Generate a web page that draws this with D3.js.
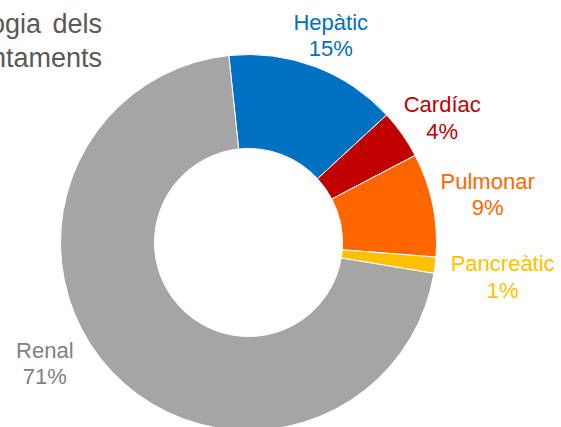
<!DOCTYPE html>
<html>
<head>
<meta charset="utf-8">
<script src="https://cdn.jsdelivr.net/npm/d3@7"></script>
<style>
  html, body { margin: 0; padding: 0; background: #fff; overflow: hidden; }
  text { font-family: "Liberation Sans", Arial, sans-serif; }
</style>
</head>
<body>
<svg id="donut" width="561" height="427"></svg>
<script>
// data (percent of transplants)
const categories = ["Hepàtic", "Cardíac", "Pulmonar", "Pancreàtic", "Renal"];
const values = [14.8, 4.2, 8.9, 1.4, 70.7];
const colors = ["#0070C0", "#C00000", "#FF6600", "#FFC000", "#A5A5A5"];
const textColors = ["#0070C0", "#C00000", "#FF6600", "#FFC000", "#808080"];
const titleLines = ["Tipologia dels", "trasplantaments"];

const data = categories.map((c, i) => ({ name: c, value: values[i], color: colors[i], text: textColors[i] }));

const svg = d3.select("#donut");

const cx = 248.5, cy = 242.5;
const outerR = 188, innerR = 94;
const fontSize = 22;
const lineGap = 26.5;

// title (cut off at the left edge like the original)
svg.append("g")
    .selectAll("text")
    .data(titleLines)
    .enter()
    .append("text")
    .attr("x", 102)
    .attr("y", (d, i) => 33 + i * 33.5)
    .attr("text-anchor", "end")
    .attr("font-size", 27)
    .attr("word-spacing", 4)
    .attr("fill", "#595959")
    .text(d => d);

const pie = d3.pie()
    .value(d => d.value)
    .sort(null)
    .startAngle(-6 * Math.PI / 180)
    .endAngle(2 * Math.PI - 6 * Math.PI / 180);

const arc = d3.arc().innerRadius(innerR).outerRadius(outerR);

const g = svg.append("g").attr("transform", `translate(${cx},${cy})`);

const arcs = pie(data);

g.selectAll("path")
    .data(arcs)
    .enter()
    .append("path")
    .attr("d", arc)
    .attr("fill", d => d.data.color)
    .attr("stroke", "#fff")
    .attr("stroke-width", 1);

// Excel style outside-end labels
const labelGap = 8;
const nudge = { "Renal": [-40, -27], "Pancreàtic": [8, 10], "Cardíac": [2, 4], "Pulmonar": [1, -2] };

const lbl = g.selectAll("g.lbl")
    .data(arcs)
    .enter()
    .append("g")
    .attr("class", "lbl");

lbl.each(function(d) {
    const node = d3.select(this);
    const pct = Math.round(d.data.value) + "%";
    const t1 = node.append("text")
        .attr("text-anchor", "middle")
        .attr("font-size", fontSize)
        .attr("fill", d.data.text)
        .text(d.data.name);
    const t2 = node.append("text")
        .attr("text-anchor", "middle")
        .attr("font-size", fontSize)
        .attr("fill", d.data.text)
        .text(pct);
    const w = Math.max(t1.node().getComputedTextLength(), t2.node().getComputedTextLength());
    const h = 46;
    const a = (d.startAngle + d.endAngle) / 2;
    const r = outerR + labelGap;
    let x = Math.sin(a) * r + Math.sin(a) * w / 2;
    let y = -Math.cos(a) * r - Math.cos(a) * h / 2;
    const n = nudge[d.data.name] || [0, 0];
    x += n[0];
    y += n[1];
    t1.attr("x", x).attr("y", y - 8);
    t2.attr("x", x).attr("y", y - 8 + lineGap);
});
</script>
</body>
</html>
